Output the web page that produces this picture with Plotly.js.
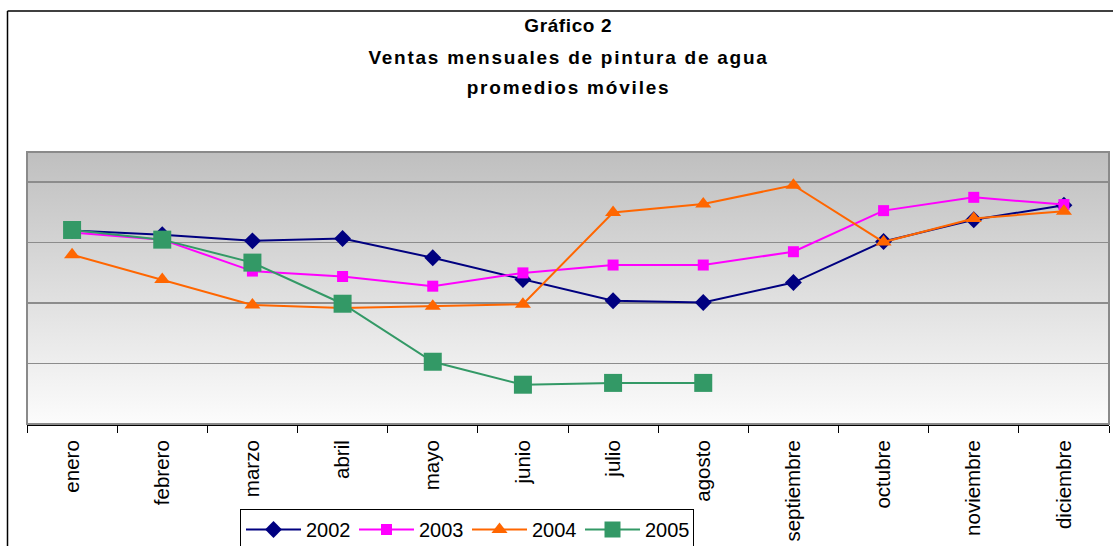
<!DOCTYPE html>
<html>
<head>
<meta charset="utf-8">
<script src="https://cdn.plot.ly/plotly-3.0.1.min.js"></script>
<style>
html,body{margin:0;padding:0;background:#fff;}
#chart{width:1113px;height:546px;}
.annotation[data-index="0"] .annotation-text{letter-spacing:0.6px;}
.annotation[data-index="1"] .annotation-text{letter-spacing:1.75px;}
.annotation[data-index="2"] .annotation-text{letter-spacing:1.8px;}
</style>
</head>
<body>
<div id="chart"></div>
<script>
const months = ["enero","febrero","marzo","abril","mayo","junio","julio","agosto","septiembre","octubre","noviembre","diciembre"];
const v2002 = [3.20,3.13,3.03,3.07,2.75,2.39,2.04,2.01,2.34,3.02,3.38,3.62];
const v2003 = [3.17,3.05,2.53,2.44,2.28,2.50,2.63,2.63,2.85,3.53,3.75,3.63];
const v2004 = [2.80,2.39,1.97,1.92,1.95,1.98,3.50,3.64,3.95,3.01,3.40,3.52];
const v2005 = [3.21,3.05,2.67,1.99,1.03,0.65,0.68,0.68];
const seriesNames = ["2002","2003","2004","2005"];
const titleLines = ["Gráfico 2","Ventas mensuales de pintura de agua","promedios móviles"];

const FONT = "Liberation Sans, Arial, sans-serif";
const W = 1113, H = 546;
const mL = 27, mR = 4, mT = 152, mB = 122;
const pw = W - mL - mR, ph = H - mT - mB;
const px2x = x => (x - mL) / pw;
const py2y = y => (H - mB - y) / ph;

function tr(name, y, color, symbol, size) {
  return {
    type: "scatter", mode: "lines+markers", name: name,
    x: months.slice(0, y.length), y: y,
    line: {color: color, width: 2},
    marker: {color: color, symbol: symbol, size: size, line: {width: 0}}
  };
}
const data = [
  tr(seriesNames[0], v2002, "#000080", "diamond", 13),
  tr(seriesNames[1], v2003, "#FF00FF", "square", 11),
  tr(seriesNames[2], v2004, "#FF6600", "triangle-up", 14),
  tr(seriesNames[3], v2005, "#339966", "square", 18)
];

const gradSvg = "<svg xmlns='http://www.w3.org/2000/svg' width='10' height='100' viewBox='0 0 10 100' preserveAspectRatio='none'>" +
  "<defs><linearGradient id='g' x1='0' y1='0' x2='0' y2='1'>" +
  "<stop offset='0' stop-color='#bfbfbf'/><stop offset='1' stop-color='#fcfcfc'/></linearGradient></defs>" +
  "<rect width='10' height='100' fill='url(#g)'/></svg>";
const gradUri = "data:image/svg+xml;charset=utf-8," + encodeURIComponent(gradSvg);

const shapes = [];
// plot border (gray)
shapes.push({type: "rect", xref: "paper", yref: "paper", layer: "above",
  x0: 0, x1: 1, y0: 0, y1: 1, line: {color: "#8a8a8a", width: 2}, fillcolor: "rgba(0,0,0,0)"});
// outer chart border (black)
shapes.push({type: "line", xref: "paper", yref: "paper", x0: px2x(7.5), x1: px2x(1120), y0: py2y(11), y1: py2y(11), line: {color: "#000", width: 1.5}});
shapes.push({type: "line", xref: "paper", yref: "paper", x0: px2x(7.5), x1: px2x(7.5), y0: py2y(11), y1: py2y(560), line: {color: "#000", width: 1.5}});

const titleY = [25, 58, 88];
const annotations = titleLines.map((t, i) => ({
  text: "<b>" + t + "</b>", xref: "paper", yref: "paper",
  x: px2x(568), y: py2y(titleY[i]), xanchor: "center", yanchor: "middle",
  showarrow: false, font: {family: FONT, size: 19, color: "#000"}
}));

const layout = {
  width: W, height: H,
  margin: {l: mL, r: mR, t: mT, b: mB, autoexpand: false},
  paper_bgcolor: "#fff", plot_bgcolor: "rgba(0,0,0,0)",
  font: {family: FONT, color: "#000"},
  showlegend: true,
  legend: {
    orientation: "h", x: px2x(240), xanchor: "left", y: py2y(509), yanchor: "top",
    bordercolor: "#000", borderwidth: 1, bgcolor: "#fff",
    font: {family: FONT, size: 20, color: "#000"},
    entrywidth: 43, itemwidth: 55
  },
  images: [{source: gradUri, xref: "paper", yref: "paper", x: 0, y: 1, sizex: 1, sizey: 1,
    xanchor: "left", yanchor: "top", sizing: "stretch", layer: "below"}],
  xaxis: {
    type: "category", range: [-0.5, 11.5], automargin: false,
    tickangle: -90, tickson: "boundaries", ticks: "outside", ticklen: 7, tickcolor: "#000", tickwidth: 1,
    ticklabelstandoff: 6,
    showline: true, linecolor: "#000", linewidth: 2,
    showgrid: false, tickfont: {family: FONT, size: 20.5, color: "#000"}, fixedrange: true
  },
  yaxis: {
    range: [0, 4.5], dtick: 1, tick0: 0, showticklabels: false, ticks: "", automargin: false,
    showgrid: true, gridcolor: "#8c8c8c", gridwidth: 1.5, zeroline: false, showline: false, fixedrange: true
  },
  shapes: shapes,
  annotations: annotations
};

Plotly.newPlot("chart", data, layout, {displayModeBar: false, staticPlot: true});
</script>
</body>
</html>
